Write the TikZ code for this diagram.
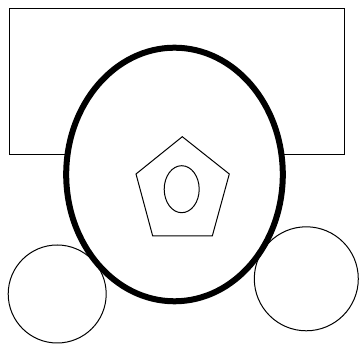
\documentclass[tikz,border=0pt]{standalone}
\begin{document}
\begin{tikzpicture}[x=1pt,y=-1pt,
  thin line/.style={draw=black,line width=1pt},
  thick line/.style={draw=black,line width=6pt,fill=white}]
\useasboundingbox (0,0) rectangle (360,347);
\fill[white] (0,0) rectangle (360,347);
% rectangle
\draw[thin line] (10,8.5) rectangle (345,154.5);
% circles
\draw[thin line] (57.2,294) circle[radius=49];
\draw[thin line] (306.3,278.8) circle[radius=52];
% big ellipse
\draw[thick line] (174.5,174.5) ellipse[x radius=108.3, y radius=126.8];
% pentagon
\draw[thin line] (182.3,136.7) -- (229.3,174) -- (212.3,236) -- (152.7,236) -- (136,174) -- cycle;
% small ellipse
\draw[thin line] (181.7,189.2) ellipse[x radius=17.5, y radius=23.5];
\end{tikzpicture}
\end{document}
